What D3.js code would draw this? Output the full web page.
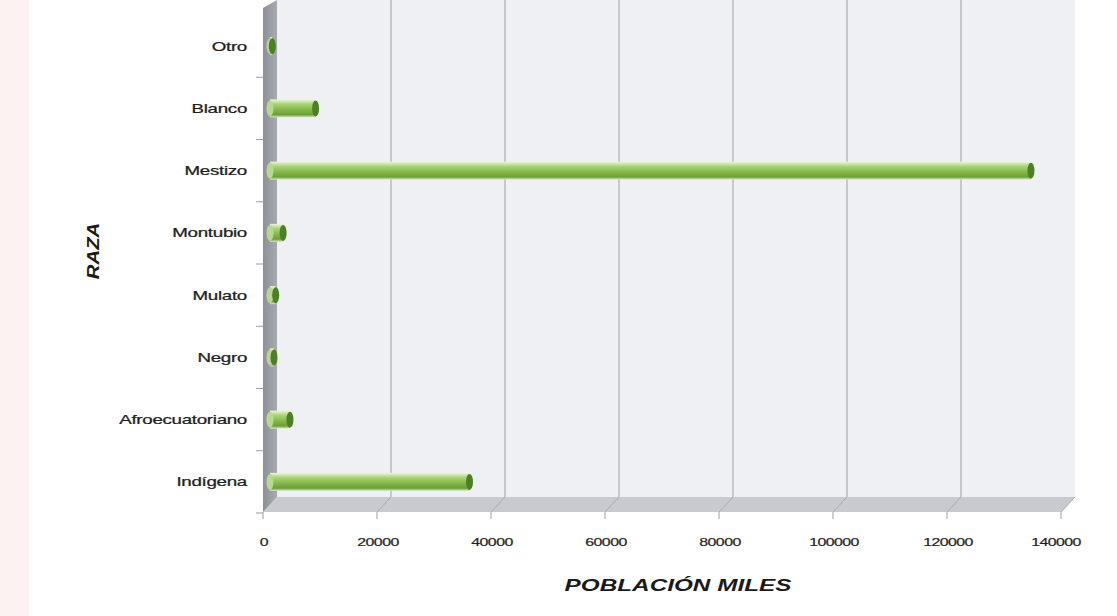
<!DOCTYPE html>
<html>
<head>
<meta charset="utf-8">
<script src="https://cdn.jsdelivr.net/npm/d3@7"></script>
<style>
  body { margin: 0; background: #fff; }
  svg { display: block; font-family: "Liberation Sans", Arial, sans-serif; }
</style>
</head>
<body>
<svg id="chart" width="1117" height="616"></svg>
<script>
// categories top to bottom (miles)
var razas = ["Otro", "Blanco", "Mestizo", "Montubio", "Mulato", "Negro", "Afroecuatoriano", "Indígena"];
var poblacion = [400, 8000, 133500, 2300, 1000, 700, 3500, 35000];
var ticks = [0, 20000, 40000, 60000, 80000, 100000, 120000, 140000];

var svg = d3.select("#chart");

// pinkish page edge on the left
svg.append("rect").attr("x", 0).attr("y", 0).attr("width", 29).attr("height", 616).attr("fill", "#fdf2f2");

// fake 3d depth of the walls
var dx = 14, dy = -15;
// the original picture is stretched sideways, text too
var sx = 1.38;

var x = d3.scaleLinear().domain([0, 140000]).range([263, 1061]);
var y = d3.scaleBand().domain(razas).range([15, 513]);

var floorY = 512;

var defs = svg.append("defs");
var cyl = defs.append("linearGradient").attr("id", "cyl").attr("x1", 0).attr("y1", 0).attr("x2", 0).attr("y2", 1);
cyl.append("stop").attr("offset", "0%").attr("stop-color", "#eef5dc");
cyl.append("stop").attr("offset", "25%").attr("stop-color", "#acd47c");
cyl.append("stop").attr("offset", "55%").attr("stop-color", "#86bb4a");
cyl.append("stop").attr("offset", "85%").attr("stop-color", "#6c9e38");
cyl.append("stop").attr("offset", "100%").attr("stop-color", "#dbe9c6");

var wall = defs.append("linearGradient").attr("id", "lwall").attr("x1", 0).attr("y1", 0).attr("x2", 1).attr("y2", 0);
wall.append("stop").attr("offset", "0%").attr("stop-color", "#8e9097");
wall.append("stop").attr("offset", "100%").attr("stop-color", "#a8aab1");

// back wall
svg.append("rect")
    .attr("x", x(0) + dx).attr("y", 0)
    .attr("width", x(140000) - x(0)).attr("height", floorY + dy)
    .attr("fill", "#eff0f4");

// floor
svg.append("path")
    .attr("d", "M" + x(0) + "," + floorY + "L" + (x(0) + dx) + "," + (floorY + dy)
      + "H" + (x(140000) + dx) + "L" + x(140000) + "," + floorY + "Z")
    .attr("fill", "#c8cacf");

// left wall
svg.append("path")
    .attr("d", "M" + x(0) + ",8L" + (x(0) + dx) + ",0V" + (floorY + dy) + "L" + x(0) + "," + floorY + "Z")
    .attr("fill", "url(#lwall)");

// gridlines on the back wall and down across the floor
var grid = svg.append("g");
grid.selectAll(".gv").data(ticks.slice(1, 7)).enter().append("line")
    .attr("x1", function(d) { return x(d) + dx; }).attr("x2", function(d) { return x(d) + dx; })
    .attr("y1", 0).attr("y2", floorY + dy)
    .attr("stroke", "#b9bbc1").attr("stroke-width", 1.5);
grid.selectAll(".gf").data(ticks.slice(1)).enter().append("line")
    .attr("x1", function(d) { return x(d) + dx; }).attr("y1", floorY + dy)
    .attr("x2", function(d) { return x(d); }).attr("y2", floorY)
    .attr("stroke", "#a9abb1").attr("stroke-width", 1);

// tick marks on the front edges
svg.selectAll(".tx").data(ticks).enter().append("line")
    .attr("x1", function(d) { return x(d); }).attr("x2", function(d) { return x(d); })
    .attr("y1", floorY).attr("y2", floorY + 7)
    .attr("stroke", "#9a9ca2");
var bounds = razas.map(function(r) { return y(r); }).concat([y.range()[1]]);
svg.selectAll(".ty").data(bounds.slice(1)).enter().append("line")
    .attr("x1", x(0) - 7).attr("x2", x(0))
    .attr("y1", function(d) { return d; }).attr("y2", function(d) { return d; })
    .attr("stroke", "#9a9ca2");

// cylinders
var bh = 18, x0 = x(0) + 7;
var bars = svg.selectAll(".bar").data(razas).enter().append("g");
bars.append("rect")
    .attr("x", x0)
    .attr("y", function(d) { return y(d) + y.bandwidth() / 2 - bh / 2; })
    .attr("width", function(d, i) { return Math.max(0, x(poblacion[i]) + 7 - x0); })
    .attr("height", bh)
    .attr("fill", "url(#cyl)");
bars.append("ellipse")
    .attr("cx", x0)
    .attr("cy", function(d) { return y(d) + y.bandwidth() / 2; })
    .attr("rx", 3.5).attr("ry", bh / 2 - 1)
    .attr("fill", "#b6d98e");
bars.append("ellipse")
    .attr("cx", function(d, i) { return x(poblacion[i]) + 7; })
    .attr("cy", function(d) { return y(d) + y.bandwidth() / 2; })
    .attr("rx", 3.5).attr("ry", bh / 2 - 1)
    .attr("fill", "#4f7e2a");

// category labels
svg.selectAll(".cl").data(razas).enter().append("text")
    .attr("transform", function(d) {
      return "translate(247," + (y(d) + y.bandwidth() / 2 + 4.5) + ")scale(1.5,1)"; })
    .attr("text-anchor", "end")
    .attr("font-size", 12.5).attr("letter-spacing", -0.2)
    .attr("fill", "#1e1e1e").attr("stroke", "#1e1e1e").attr("stroke-width", 0.25)
    .text(function(d) { return d; });

// value tick labels
svg.selectAll(".vl").data(ticks).enter().append("text")
    .attr("transform", function(d) {
      return "translate(" + (d === 140000 ? x(d) - 5 : x(d) + 1) + ",546)scale(" + sx + ",1)"; })
    .attr("text-anchor", "middle")
    .attr("font-size", 11.5).attr("letter-spacing", -0.4)
    .attr("fill", "#1e1e1e").attr("stroke", "#1e1e1e").attr("stroke-width", 0.2)
    .text(function(d) { return d; });

// axis titles
svg.append("text")
    .attr("transform", "translate(99,251)rotate(-90)scale(1.2,1)")
    .attr("text-anchor", "middle")
    .attr("font-size", 17).attr("font-weight", "bold").attr("font-style", "italic")
    .attr("fill", "#1a1a1a")
    .text("RAZA");
svg.append("text")
    .attr("transform", "translate(678,591)scale(1.52,1)")
    .attr("text-anchor", "middle")
    .attr("font-size", 16).attr("font-weight", "bold").attr("font-style", "italic")
    .attr("fill", "#1a1a1a")
    .text("POBLACIÓN MILES");
</script>
</body>
</html>
